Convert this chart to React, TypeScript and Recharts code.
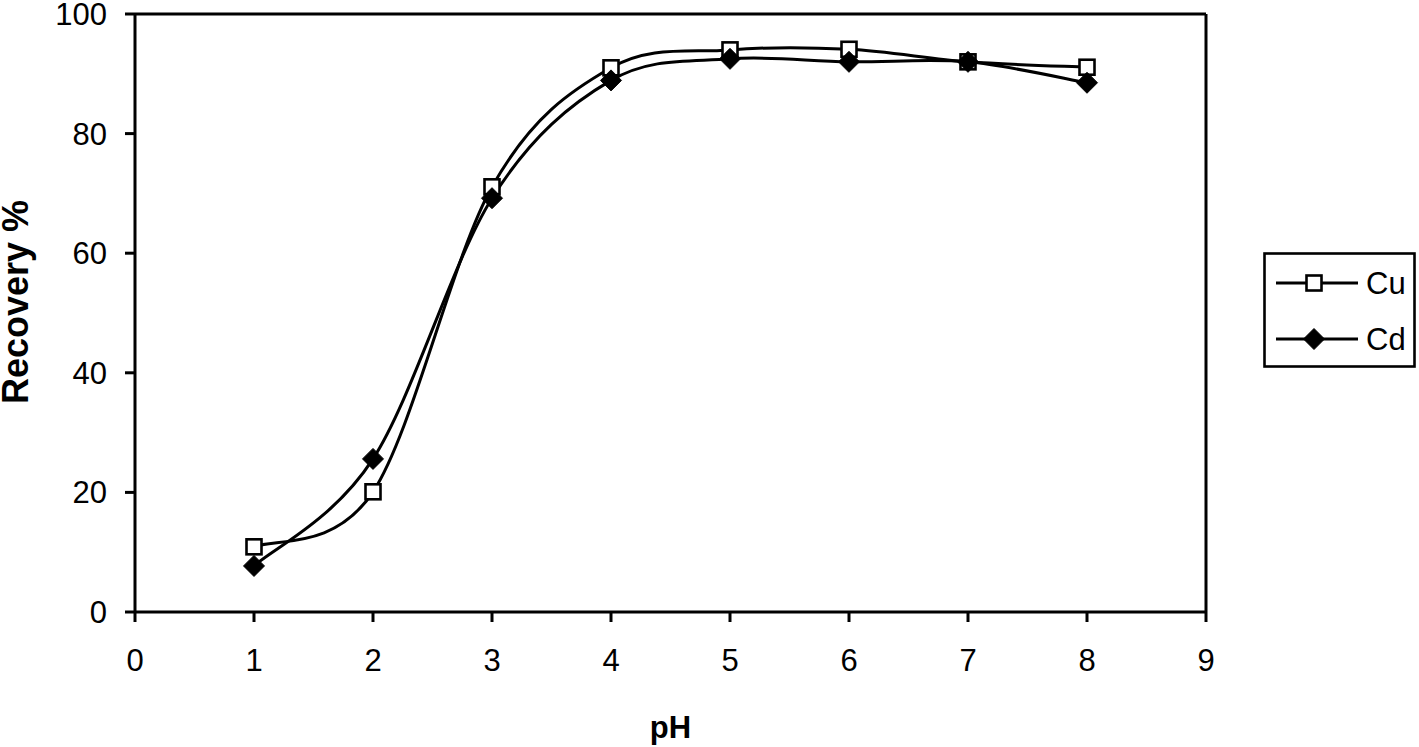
import React from 'react';
import { LineChart, Line, XAxis, YAxis, ReferenceLine, Legend, Label } from 'recharts';

const phValues = [1, 2, 3, 4, 5, 6, 7, 8];
const cuRecovery = [10.9, 20.1, 71.1, 91.0, 94.0, 94.1, 92.0, 91.1];
const cdRecovery = [7.7, 25.6, 69.2, 88.9, 92.5, 92.0, 92.0, 88.5];
const xTicks = [0, 1, 2, 3, 4, 5, 6, 7, 8, 9];
const yTicks = [0, 20, 40, 60, 80, 100];
const seriesNames = ['Cu', 'Cd'];

const data = phValues.map((ph, i) => ({ ph, Cu: cuRecovery[i], Cd: cdRecovery[i] }));

const FONT = '"Liberation Sans", Arial, sans-serif';

// Excel-like smoothing (Catmull-Rom Bezier, 1/6 control points)
const excelSmooth = (context: any) => {
  let pts: [number, number][] = [];
  return {
    areaStart() {},
    areaEnd() {},
    lineStart() {
      pts = [];
    },
    lineEnd() {
      if (!pts.length) return;
      context.moveTo(pts[0][0], pts[0][1]);
      for (let i = 0; i < pts.length - 1; i++) {
        const p0 = pts[i - 1] ?? pts[i];
        const p1 = pts[i];
        const p2 = pts[i + 1];
        const p3 = pts[i + 2] ?? pts[i + 1];
        context.bezierCurveTo(
          p1[0] + (p2[0] - p0[0]) / 6,
          p1[1] + (p2[1] - p0[1]) / 6,
          p2[0] - (p3[0] - p1[0]) / 6,
          p2[1] - (p3[1] - p1[1]) / 6,
          p2[0],
          p2[1]
        );
      }
    },
    point(x: number, y: number) {
      pts.push([+x, +y]);
    },
  };
};

const SquareMarker = ({ cx, cy }: { cx: number; cy: number }) => (
  <rect x={cx - 7.5} y={cy - 7.5} width={15} height={15} fill="#fff" stroke="#000" strokeWidth={2.6} />
);
const DiamondMarker = ({ cx, cy }: { cx: number; cy: number }) => (
  <polygon
    points={`${cx},${cy - 10.5} ${cx + 10.5},${cy} ${cx},${cy + 10.5} ${cx - 10.5},${cy}`}
    fill="#000"
    stroke="#000"
    strokeWidth={1}
  />
);

const renderCuDot = (props: any) => (
  <g key={`cu-${props.index}`}>
    <SquareMarker cx={props.cx} cy={props.cy} />
  </g>
);
const renderCdDot = (props: any) => (
  <g key={`cd-${props.index}`}>
    <DiamondMarker cx={props.cx} cy={props.cy} />
  </g>
);

const renderLegend = () => (
  <svg width={153} height={116} style={{ display: 'block' }}>
    <rect x={1.5} y={1.5} width={150} height={113} fill="#fff" stroke="#000" strokeWidth={2.6} />
    {seriesNames.map((name, i) => {
      const y = 31 + i * 56;
      return (
        <g key={name}>
          <line x1={13} x2={95} y1={y} y2={y} stroke="#000" strokeWidth={3} />
          {i === 0 ? <SquareMarker cx={51} cy={y} /> : <DiamondMarker cx={51} cy={y} />}
          <text x={103} y={y + 11} fontFamily={FONT} fontSize={31} fill="#000">
            {name}
          </text>
        </g>
      );
    })}
  </svg>
);

const YTitle = () => (
  <text
    x={28}
    y={302}
    transform="rotate(-90 28 302)"
    textAnchor="middle"
    fontFamily={FONT}
    fontWeight="bold"
    fontSize={36}
    fill="#000"
  >
    Recovery %
  </text>
);

export default function App() {
  const tickStyle = { fontFamily: FONT, fontSize: 31, fill: '#000' };
  return (
    <div style={{ position: 'absolute', left: 0, top: 0, width: 1419, height: 747, background: '#fff' }}>
      <LineChart width={1419} height={747} data={data} margin={{ top: 14, right: 213, bottom: 0, left: 0 }}>
        <XAxis
          dataKey="ph"
          type="number"
          domain={[0, 9]}
          ticks={xTicks}
          interval={0}
          height={135}
          tickSize={10}
          tickMargin={27}
          tick={tickStyle}
          axisLine={{ stroke: '#000', strokeWidth: 3 }}
          tickLine={{ stroke: '#000', strokeWidth: 3 }}
        >
          <Label
            value="pH"
            position="insideBottom"
            offset={9}
            style={{ fontFamily: FONT, fontWeight: 'bold', fontSize: 31, fill: '#000' }}
          />
        </XAxis>
        <YAxis
          type="number"
          domain={[0, 100]}
          ticks={yTicks}
          interval={0}
          width={135}
          tickSize={10}
          tickMargin={18}
          tick={tickStyle}
          axisLine={{ stroke: '#000', strokeWidth: 3 }}
          tickLine={{ stroke: '#000', strokeWidth: 3 }}
        >
          <Label content={<YTitle />} />
        </YAxis>
        <ReferenceLine y={100} stroke="#000" strokeWidth={3} />
        <ReferenceLine x={9} stroke="#000" strokeWidth={3} />
        <Legend
          layout="horizontal"
          verticalAlign="middle"
          align="center"
          content={renderLegend}
          wrapperStyle={{ left: 1263, top: 252, width: 153, height: 116 }}
        />
        <Line
          dataKey="Cu"
          name="Cu"
          type={excelSmooth as any}
          stroke="#000"
          strokeWidth={3}
          dot={renderCuDot}
          activeDot={false}
          isAnimationActive={false}
        />
        <Line
          dataKey="Cd"
          name="Cd"
          type={excelSmooth as any}
          stroke="#000"
          strokeWidth={3}
          dot={renderCdDot}
          activeDot={false}
          isAnimationActive={false}
        />
      </LineChart>
    </div>
  );
}
